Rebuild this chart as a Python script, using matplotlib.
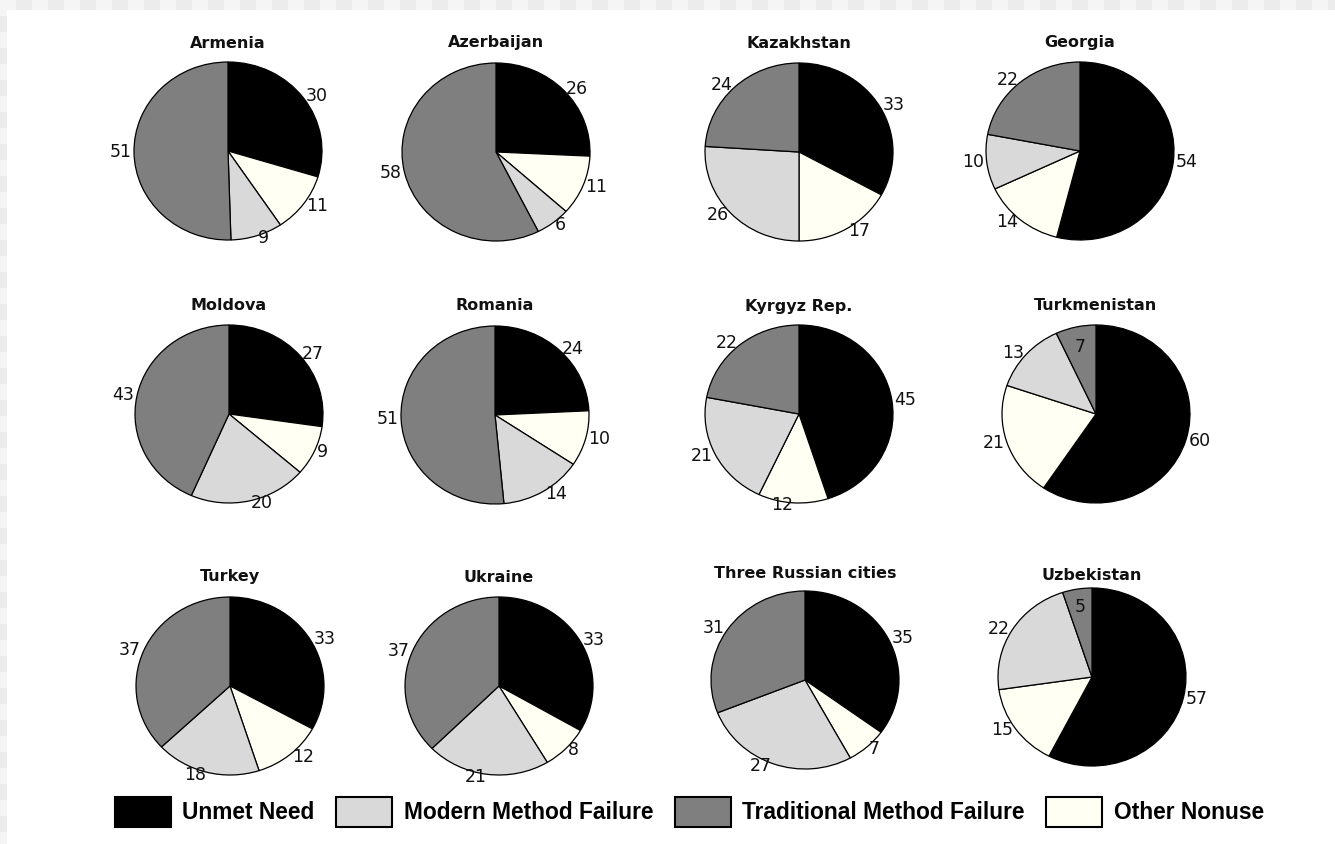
import matplotlib
matplotlib.use("Agg")
import matplotlib.pyplot as plt
import numpy as np
from matplotlib.patches import Patch, Rectangle
from matplotlib.font_manager import FontProperties

# ---------------- data ----------------
countries = ["Armenia", "Azerbaijan", "Kazakhstan", "Georgia",
             "Moldova", "Romania", "Kyrgyz Rep.", "Turkmenistan",
             "Turkey", "Ukraine", "Three Russian cities", "Uzbekistan"]
unmet_need = [30, 26, 33, 54, 27, 24, 45, 60, 33, 33, 35, 57]
other_nonuse = [11, 11, 17, 14, 9, 10, 12, 21, 12, 8, 7, 15]
modern_failure = [9, 6, 26, 10, 20, 14, 21, 13, 18, 21, 27, 22]
traditional_failure = [51, 58, 24, 22, 43, 51, 22, 7, 37, 37, 31, 5]
legend_labels = ["Unmet Need", "Modern Method Failure",
                 "Traditional Method Failure", "Other Nonuse"]

# ---------------- style / layout ----------------
C_UNMET = "#000000"
C_MODERN = "#d9d9d9"
C_TRAD = "#7f7f7f"
C_OTHER = "#fffff4"

W, H = 1335, 844
fig = plt.figure(figsize=(W / 100, H / 100), dpi=100)

# checkered border (transparency-like) + white page
bg = fig.add_axes([0, 0, 1, 1], zorder=-10)
sq = 16
ny, nx = H // sq + 1, W // sq + 1
checker = (np.add.outer(np.arange(ny), np.arange(nx)) % 2).astype(float)
bg.imshow(checker, cmap=matplotlib.colors.ListedColormap(["#f5f5f5", "#ececec"]),
          extent=[0, nx * sq, ny * sq, 0], interpolation="nearest", aspect="auto")
bg.set_xlim(0, W)
bg.set_ylim(H, 0)
bg.add_patch(Rectangle((7, 10), W - 7, H - 10, facecolor="white", edgecolor="none"))
bg.axis("off")

centers_x = [228, 496, 799, 1080, 229, 495, 799, 1096, 230, 499, 805, 1092]
centers_y = [151, 152, 152, 151, 414, 415, 414, 414, 686, 686, 680, 677]
title_y = [43, 43, 43, 43, 306, 306, 306, 305, 577, 577, 573, 575]
RX, RY = 94, 89
LIM = 1.4
inside = {"Turkmenistan": (3, 0.77), "Uzbekistan": (3, 0.80)}

for i, name in enumerate(countries):
    cx, cy = centers_x[i], centers_y[i]
    ax = fig.add_axes([(cx - LIM * RX) / W, 1 - (cy + LIM * RY) / H,
                       2 * LIM * RX / W, 2 * LIM * RY / H])
    vals = [unmet_need[i], other_nonuse[i], modern_failure[i], traditional_failure[i]]
    wedges, texts = ax.pie(
        vals, colors=[C_UNMET, C_OTHER, C_MODERN, C_TRAD],
        labels=[str(v) for v in vals], labeldistance=1.03,
        startangle=90, counterclock=False,
        wedgeprops=dict(edgecolor="black", linewidth=0.9),
        textprops=dict(fontsize=12.5, family="DejaVu Sans", color="#111111"))
    if name in inside:
        k, r = inside[name]
        w = wedges[k]
        ang = np.deg2rad((w.theta1 + w.theta2) / 2)
        texts[k].set_position((r * np.cos(ang), r * np.sin(ang)))
        texts[k].set_ha("center")
    ax.set_aspect("auto")
    ax.set_xlim(-LIM, LIM)
    ax.set_ylim(-LIM, LIM)
    ax.axis("off")
    fig.text(cx / W, 1 - title_y[i] / H, name, ha="center", va="center",
             fontsize=11.5, fontweight="bold", family="DejaVu Sans", color="#111111")

handles = [Patch(facecolor=c, edgecolor="black", linewidth=1.5)
           for c in [C_UNMET, C_MODERN, C_TRAD, C_OTHER]]
fig.legend(handles, legend_labels, loc="center",
           bbox_to_anchor=(689.5 / W, 1 - 812 / H), ncol=4, frameon=False,
           prop=FontProperties(family="Liberation Sans", weight="bold", size=16.4),
           handlelength=2.46, handleheight=1.65, handletextpad=0.5,
           columnspacing=0.95, borderpad=0, borderaxespad=0)

fig.savefig("out.png", dpi=100)
